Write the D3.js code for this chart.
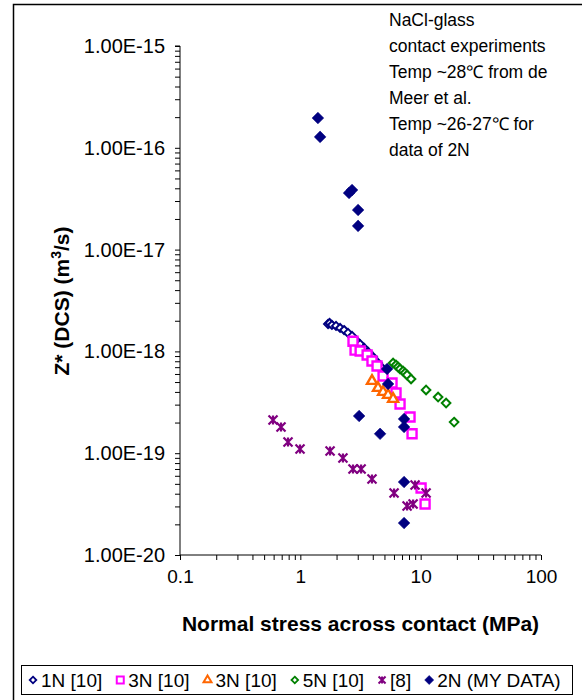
<!DOCTYPE html>
<html>
<head>
<meta charset="utf-8">
<script src="https://cdn.jsdelivr.net/npm/d3@7"></script>
<style>
  html, body { margin: 0; padding: 0; background: #fff; }
  svg { display: block; font-family: "Liberation Sans", Arial, sans-serif; }
</style>
</head>
<body>
<svg id="chart" width="582" height="700"></svg>
<script>
// Axis ticks
const xTickValues = [0.1, 1, 10, 100];
const xTickLabels = ["0.1", "1", "10", "100"];
const yTickValues = [1e-20, 1e-19, 1e-18, 1e-17, 1e-16, 1e-15];
const yTickLabels = ["1.00E-20", "1.00E-19", "1.00E-18", "1.00E-17", "1.00E-16", "1.00E-15"];

// 1N [10]
const stress1N = [1.70, 1.75, 1.83, 1.98, 2.14, 2.31, 2.49, 2.69, 2.90, 3.14, 3.39, 3.66, 4.02, 4.42, 4.78];
const z1N = [1.86e-18, 1.90e-18, 1.82e-18, 1.78e-18, 1.70e-18, 1.62e-18, 1.52e-18, 1.42e-18, 1.29e-18, 1.18e-18, 1.08e-18, 9.87e-19, 8.81e-19, 7.69e-19, 6.87e-19];

// 3N [10] (squares)
const stress3Nsq = [2.74, 2.85, 3.14, 3.59, 3.94, 4.34, 4.87, 5.78, 6.24, 6.74, 8.16, 8.48, 10.08, 10.88];
const z3Nsq = [1.26e-18, 1.03e-18, 1.01e-18, 9.22e-19, 8.05e-19, 7.19e-19, 5.73e-19, 4.90e-19, 3.90e-19, 3.04e-19, 2.27e-19, 1.55e-19, 4.55e-20, 3.17e-20];

// 3N [10] (triangles)
const stress3Ntri = [3.94, 4.42, 4.87, 5.36, 5.90];
const z3Ntri = [5.12e-19, 4.37e-19, 3.99e-19, 3.73e-19, 3.41e-19];

// 5N [10]
const stress5N = [5.90, 6.24, 6.49, 6.74, 7.14, 7.42, 7.71, 8.32, 11.09, 13.96, 16.27, 18.96];
const z5N = [7.69e-19, 7.35e-19, 7.03e-19, 6.72e-19, 6.42e-19, 6.14e-19, 5.86e-19, 5.36e-19, 4.18e-19, 3.56e-19, 3.11e-19, 2.02e-19];

// [8]
const stressRef8 = [0.593, 0.691, 0.790, 0.994, 1.766, 2.26, 2.74, 3.20, 3.94, 6.01, 8.98, 11.09, 7.71, 8.65];
const zRef8 = [2.12e-19, 1.81e-19, 1.29e-19, 1.10e-19, 1.05e-19, 8.97e-20, 7.0e-20, 7.0e-20, 5.58e-20, 4.07e-20, 4.87e-20, 4.07e-20, 3.03e-20, 3.17e-20];

// 2N (MY DATA)
const stress2N = [1.40, 1.46, 2.54, 2.69, 3.02, 3.02, 5.26, 5.36, 3.08, 4.60, 7.28, 7.28, 7.28, 7.28];
const z2N = [1.96e-16, 1.28e-16, 3.60e-17, 3.85e-17, 2.45e-17, 1.71e-17, 6.72e-19, 4.79e-19, 2.32e-19, 1.55e-19, 2.17e-19, 1.81e-19, 5.21e-20, 2.06e-20];

const seriesNames = ["1N [10]", "3N [10]", "3N [10]", "5N [10]", "[8]", "2N (MY DATA)"];

const noteLines = [
  "NaCl-glass",
  "contact experiments",
  "Temp ~28\u2103 from de",
  "Meer et al.",
  "Temp ~26-27\u2103 for",
  "data of 2N"
];

// ---- layout ----
const svg = d3.select("#chart");
const plot = { left: 180, right: 541, top: 46, bottom: 555 };

const x = d3.scaleLog().domain([0.1, 100]).range([plot.left, plot.right]);
const y = d3.scaleLog().domain([1e-20, 1e-15]).range([plot.bottom, plot.top]);

// outer chart frame
svg.append("rect")
  .attr("x", 13.5).attr("y", 4.5)
  .attr("width", 700).attr("height", 800)
  .attr("fill", "none").attr("stroke", "#000").attr("stroke-width", 1.5);

// every tick position over a range of decades (1..9 × 10^e)
function decadeTicks(lo, hi) {
  const out = [];
  for (let e = lo; e < hi; e++) {
    for (let m = 1; m <= 9; m++) out.push(m * Math.pow(10, e));
  }
  out.push(Math.pow(10, hi));
  return out;
}

const yAll = decadeTicks(-20, -15);
const xAll = decadeTicks(-1, 2);

function labelFor(v, values, labels) {
  const i = values.findIndex(m => Math.abs(v / m - 1) < 1e-6);
  return i >= 0 ? labels[i] : "";
}

const yAxis = d3.axisLeft(y)
  .tickValues(yAll)
  .tickSize(5)
  .tickPadding(10)
  .tickFormat(v => labelFor(v, yTickValues, yTickLabels));

const xAxis = d3.axisBottom(x)
  .tickValues(xAll)
  .tickSize(5)
  .tickPadding(10)
  .tickFormat(v => labelFor(v, xTickValues, xTickLabels));

const gy = svg.append("g").attr("transform", `translate(${plot.left},0)`).call(yAxis);
const gx = svg.append("g").attr("transform", `translate(0,${plot.bottom})`).call(xAxis);

[gx, gy].forEach(g => {
  g.select(".domain").attr("stroke", "#000").attr("stroke-width", 1);
  g.selectAll(".tick line").attr("stroke", "#000").attr("stroke-width", 1);
  g.selectAll(".tick text")
    .attr("fill", "#000")
    .style("font-family", "'Liberation Sans', Arial, sans-serif");
});
gy.selectAll(".tick text").style("font-size", "20px");
gx.selectAll(".tick text").style("font-size", "19px");
gy.select(".domain").attr("d", `M-5,${plot.top}H0V${plot.bottom}`);
gx.select(".domain").attr("d", `M${plot.left},0H${plot.right}`);

// axis titles
svg.append("text")
  .attr("x", (plot.left + plot.right) / 2)
  .attr("y", 631)
  .attr("text-anchor", "middle")
  .style("font-size", "21px").style("font-weight", "bold")
  .text("Normal stress across contact (MPa)");

const yt = svg.append("text")
  .attr("transform", "translate(69,301) rotate(-90)")
  .attr("text-anchor", "middle")
  .style("font-size", "21px").style("font-weight", "bold");
yt.append("tspan").text("Z* (DCS) (m");
yt.append("tspan").attr("dy", -8).style("font-size", "14px").text("3");
yt.append("tspan").attr("dy", 8).text("/s)");

// annotation
svg.append("g").selectAll("text")
  .data(noteLines)
  .join("text")
  .attr("x", 389)
  .attr("y", (d, i) => 26 + i * 26)
  .style("font-size", "17.5px")
  .text(d => d);

// ---- marker shapes ----
function diamondPath(r) {
  return `M0,${-r}L${r},0L0,${r}L${-r},0Z`;
}
function squarePath(s) {
  const h = s / 2;
  return `M${-h},${-h}H${h}V${h}H${-h}Z`;
}
function trianglePath(s) {
  const h = s * Math.sqrt(3) / 2;
  return `M0,${-h * 2 / 3}L${s / 2},${h / 3}L${-s / 2},${h / 3}Z`;
}
function starPath(r) {
  return `M${-r},${-r}L${r},${r}M${r},${-r}L${-r},${r}M0,${-r}V${r}`;
}

const styles = [
  { path: diamondPath(4), fill: "#fff", stroke: "#000080", sw: 2 },
  { path: squarePath(9), fill: "#fff", stroke: "#ff00ff", sw: 2.4 },
  { path: trianglePath(10), fill: "#fff", stroke: "#ff6600", sw: 2.4 },
  { path: diamondPath(4.3), fill: "#fff", stroke: "#008000", sw: 2 },
  { path: starPath(4.5), fill: "none", stroke: "#800080", sw: 2.2 },
  { path: diamondPath(5.8), fill: "#000080", stroke: "#000080", sw: 0.6 }
];

const seriesData = [
  [stress1N, z1N],
  [stress3Nsq, z3Nsq],
  [stress3Ntri, z3Ntri],
  [stress5N, z5N],
  [stressRef8, zRef8],
  [stress2N, z2N]
];

seriesData.forEach(([xs, zs], si) => {
  const st = styles[si];
  svg.append("g").selectAll("path")
    .data(xs.map((v, i) => [v, zs[i]]))
    .join("path")
    .attr("transform", d => `translate(${x(d[0])},${y(d[1])})`)
    .attr("d", st.path)
    .attr("fill", st.fill)
    .attr("stroke", st.stroke)
    .attr("stroke-width", st.sw)
    .attr("stroke-linejoin", "miter");
});

// ---- legend ----
const legend = svg.append("g");
legend.append("rect")
  .attr("x", 21.5).attr("y", 665.5)
  .attr("width", 551).attr("height", 29)
  .attr("fill", "#fff").attr("stroke", "#000").attr("stroke-width", 1);

const legendStyles = [
  { path: diamondPath(3.3), fill: "#fff", stroke: "#000080", sw: 1.8 },
  { path: squarePath(7), fill: "#fff", stroke: "#ff00ff", sw: 2 },
  { path: trianglePath(8), fill: "#fff", stroke: "#ff6600", sw: 2 },
  { path: diamondPath(3.3), fill: "#fff", stroke: "#008000", sw: 1.8 },
  { path: starPath(3.5), fill: "none", stroke: "#800080", sw: 2 },
  { path: diamondPath(4.5), fill: "#000080", stroke: "#000080", sw: 0.6 }
];

let lx = 27;
seriesNames.forEach((name, i) => {
  const st = legendStyles[i];
  legend.append("path")
    .attr("transform", `translate(${lx + 6},${680})`)
    .attr("d", st.path)
    .attr("fill", st.fill).attr("stroke", st.stroke).attr("stroke-width", st.sw);
  const t = legend.append("text")
    .attr("x", lx + 14).attr("y", 686.5)
    .style("font-size", "19px")
    .text(name);
  lx += 14 + t.node().getComputedTextLength() + 12;
});
</script>
</body>
</html>
